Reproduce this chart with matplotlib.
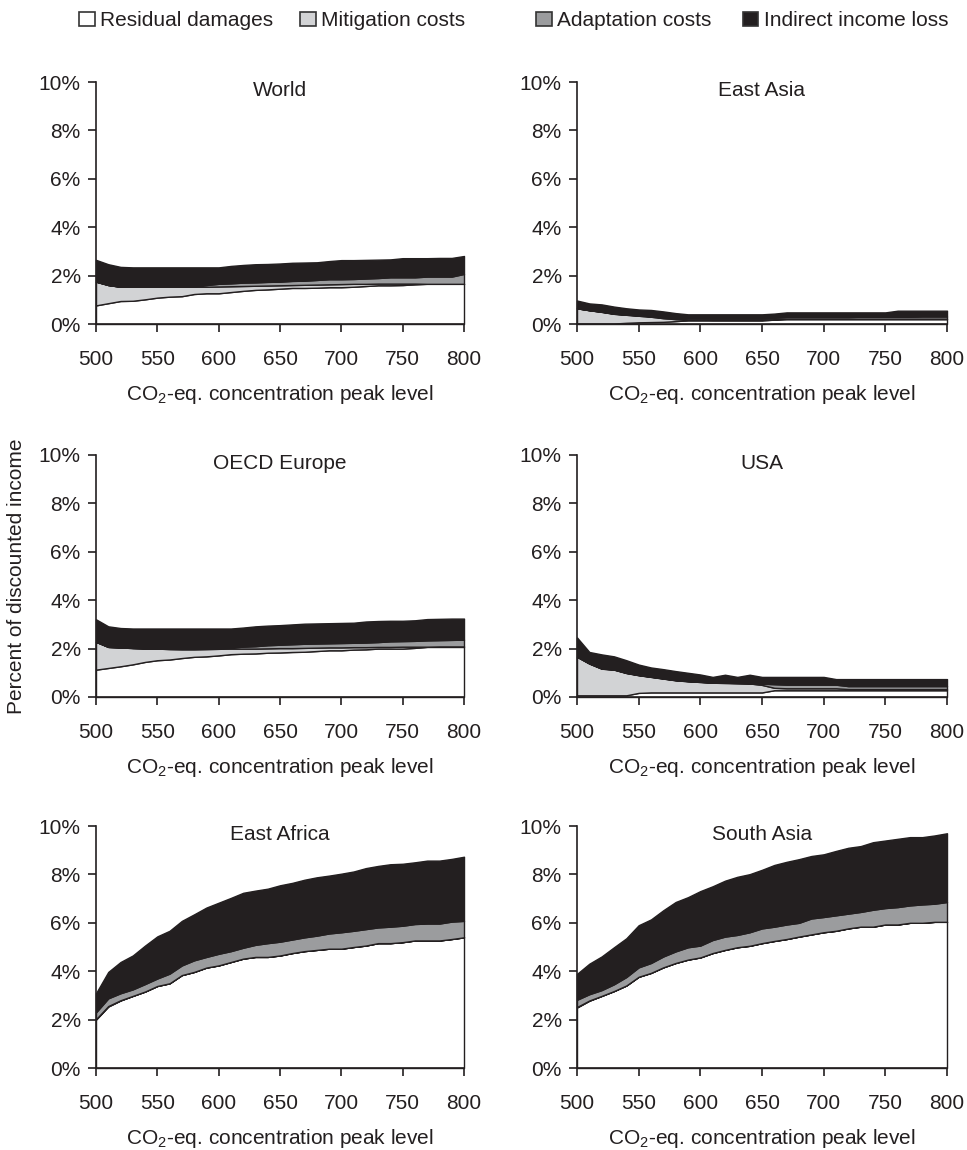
import matplotlib
matplotlib.use("Agg")
import matplotlib.pyplot as plt
from matplotlib.patches import Patch
from matplotlib.ticker import FuncFormatter

plt.rcParams["font.family"] = ["Liberation Sans", "DejaVu Sans"]
plt.rcParams["font.size"] = 15
plt.rcParams["mathtext.fontset"] = "custom"
plt.rcParams["mathtext.rm"] = "Liberation Sans"

# CO2-eq. concentration peak level (ppm)
CONC = [500, 510, 520, 530, 540, 550, 560, 570, 580, 590, 600, 610, 620, 630, 640, 650,
        660, 670, 680, 690, 700, 710, 720, 730, 740, 750, 760, 770, 780, 790, 800]

# % of discounted income, per region and component
WORLD_RESIDUAL = [0.77, 0.86, 0.95, 0.96, 1.02, 1.09, 1.13, 1.15, 1.24, 1.27, 1.27, 1.32, 1.37, 1.41, 1.43, 1.46,
                  1.49, 1.49, 1.50, 1.52, 1.52, 1.54, 1.57, 1.60, 1.60, 1.61, 1.64, 1.66, 1.66, 1.66, 1.66]
WORLD_MITIGATION = [0.98, 0.75, 0.59, 0.58, 0.52, 0.45, 0.41, 0.39, 0.30, 0.27, 0.28, 0.24, 0.20, 0.17, 0.16, 0.14,
                    0.12, 0.13, 0.13, 0.12, 0.13, 0.12, 0.09, 0.07, 0.07, 0.06, 0.03, 0.00, 0.00, 0.00, 0.00]
WORLD_ADAPTATION = [0.00, 0.00, 0.00, 0.00, 0.00, 0.00, 0.00, 0.00, 0.03, 0.07, 0.11, 0.12, 0.14, 0.14, 0.15, 0.15,
                    0.17, 0.17, 0.19, 0.21, 0.20, 0.20, 0.22, 0.23, 0.26, 0.26, 0.26, 0.30, 0.30, 0.30, 0.41]
WORLD_INDIRECT = [0.90, 0.86, 0.82, 0.80, 0.80, 0.80, 0.80, 0.80, 0.77, 0.73, 0.68, 0.72, 0.73, 0.75, 0.74, 0.75,
                  0.75, 0.75, 0.73, 0.75, 0.79, 0.78, 0.77, 0.76, 0.74, 0.79, 0.79, 0.76, 0.77, 0.77, 0.74]

EASIA_RESIDUAL = [0.02, 0.02, 0.02, 0.02, 0.05, 0.07, 0.08, 0.09, 0.12, 0.15, 0.15, 0.15, 0.15, 0.15, 0.15, 0.15,
                  0.18, 0.20, 0.20, 0.20, 0.20, 0.20, 0.20, 0.20, 0.20, 0.20, 0.20, 0.20, 0.20, 0.20, 0.20]
EASIA_MITIGATION = [0.63, 0.55, 0.48, 0.40, 0.33, 0.27, 0.22, 0.15, 0.08, 0.04, 0.03, 0.02, 0.02, 0.02, 0.02, 0.02,
                    0.02, 0.02, 0.02, 0.02, 0.02, 0.02, 0.02, 0.02, 0.02, 0.02, 0.02, 0.02, 0.02, 0.02, 0.02]
EASIA_ADAPTATION = [0.00, 0.00, 0.01, 0.01, 0.01, 0.02, 0.02, 0.03, 0.05, 0.06, 0.06, 0.06, 0.06, 0.06, 0.06, 0.06,
                    0.06, 0.07, 0.07, 0.07, 0.07, 0.07, 0.07, 0.08, 0.08, 0.08, 0.08, 0.08, 0.09, 0.09, 0.09]
EASIA_INDIRECT = [0.32, 0.28, 0.30, 0.29, 0.26, 0.24, 0.26, 0.25, 0.20, 0.15, 0.16, 0.17, 0.17, 0.17, 0.17, 0.17,
                  0.17, 0.19, 0.19, 0.19, 0.19, 0.19, 0.19, 0.18, 0.18, 0.18, 0.25, 0.25, 0.24, 0.24, 0.24]

OECD_RESIDUAL = [1.13, 1.20, 1.27, 1.35, 1.45, 1.52, 1.55, 1.61, 1.66, 1.68, 1.72, 1.77, 1.79, 1.80, 1.83, 1.84,
                 1.86, 1.87, 1.90, 1.93, 1.93, 1.96, 1.97, 2.00, 2.00, 2.00, 2.03, 2.07, 2.07, 2.07, 2.07]
OECD_MITIGATION = [1.15, 0.87, 0.78, 0.67, 0.55, 0.48, 0.43, 0.36, 0.31, 0.30, 0.27, 0.23, 0.21, 0.20, 0.18, 0.18,
                   0.16, 0.16, 0.14, 0.12, 0.12, 0.10, 0.09, 0.07, 0.07, 0.08, 0.05, 0.01, 0.02, 0.02, 0.02]
OECD_ADAPTATION = [0.00, 0.00, 0.00, 0.01, 0.02, 0.02, 0.04, 0.05, 0.05, 0.04, 0.04, 0.05, 0.08, 0.10, 0.13, 0.14,
                   0.16, 0.17, 0.17, 0.17, 0.18, 0.18, 0.19, 0.20, 0.23, 0.23, 0.24, 0.26, 0.26, 0.27, 0.28]
OECD_INDIRECT = [0.93, 0.85, 0.80, 0.80, 0.81, 0.81, 0.81, 0.81, 0.81, 0.81, 0.80, 0.78, 0.79, 0.82, 0.81, 0.81,
                 0.82, 0.83, 0.83, 0.83, 0.83, 0.83, 0.87, 0.87, 0.85, 0.84, 0.85, 0.88, 0.88, 0.88, 0.87]

USA_RESIDUAL = [0.07, 0.07, 0.07, 0.07, 0.07, 0.17, 0.19, 0.19, 0.19, 0.19, 0.19, 0.19, 0.19, 0.19, 0.19, 0.19,
                0.28, 0.28, 0.28, 0.28, 0.28, 0.28, 0.28, 0.28, 0.28, 0.28, 0.28, 0.28, 0.28, 0.28, 0.28]
USA_MITIGATION = [1.59, 1.31, 1.10, 1.06, 0.92, 0.73, 0.64, 0.57, 0.50, 0.46, 0.43, 0.40, 0.39, 0.38, 0.37, 0.31,
                  0.10, 0.08, 0.08, 0.08, 0.08, 0.08, 0.05, 0.05, 0.05, 0.05, 0.05, 0.05, 0.05, 0.05, 0.05]
USA_ADAPTATION = [0.01, 0.01, 0.01, 0.01, 0.01, 0.01, 0.01, 0.01, 0.01, 0.01, 0.01, 0.01, 0.01, 0.01, 0.01, 0.05,
                  0.15, 0.15, 0.15, 0.15, 0.15, 0.15, 0.12, 0.12, 0.12, 0.12, 0.12, 0.12, 0.12, 0.12, 0.12]
USA_INDIRECT = [0.79, 0.47, 0.58, 0.54, 0.52, 0.43, 0.38, 0.38, 0.37, 0.34, 0.30, 0.23, 0.33, 0.25, 0.35, 0.28,
                0.30, 0.32, 0.32, 0.32, 0.32, 0.23, 0.29, 0.29, 0.29, 0.29, 0.29, 0.29, 0.29, 0.29, 0.29]

EAFRICA_RESIDUAL = [2.00, 2.54, 2.79, 2.98, 3.16, 3.39, 3.50, 3.84, 3.97, 4.15, 4.24, 4.38, 4.52, 4.59, 4.59, 4.65,
                    4.75, 4.83, 4.88, 4.93, 4.93, 5.00, 5.06, 5.16, 5.16, 5.20, 5.27, 5.27, 5.27, 5.33, 5.40]
EAFRICA_MITIGATION = [0.02, 0.02, 0.01, 0.00, 0.00, 0.00, 0.00, 0.00, 0.00, 0.00, 0.00, 0.00, 0.00, 0.00, 0.00, 0.00,
                      0.00, 0.00, 0.00, 0.00, 0.00, 0.00, 0.00, 0.00, 0.00, 0.00, 0.00, 0.00, 0.00, 0.00, 0.00]
EAFRICA_ADAPTATION = [0.28, 0.32, 0.29, 0.27, 0.31, 0.31, 0.40, 0.40, 0.48, 0.44, 0.48, 0.45, 0.45, 0.50, 0.57, 0.57,
                      0.56, 0.57, 0.59, 0.63, 0.68, 0.67, 0.68, 0.65, 0.68, 0.68, 0.68, 0.70, 0.70, 0.72, 0.68]
EAFRICA_INDIRECT = [0.79, 1.09, 1.29, 1.40, 1.59, 1.74, 1.77, 1.84, 1.90, 2.04, 2.11, 2.20, 2.27, 2.24, 2.25, 2.33,
                    2.34, 2.38, 2.41, 2.39, 2.42, 2.45, 2.52, 2.54, 2.58, 2.56, 2.55, 2.60, 2.60, 2.59, 2.65]

SASIA_RESIDUAL = [2.50, 2.78, 2.98, 3.18, 3.41, 3.77, 3.93, 4.16, 4.34, 4.48, 4.57, 4.75, 4.88, 4.99, 5.05, 5.16,
                  5.25, 5.33, 5.43, 5.52, 5.61, 5.67, 5.77, 5.84, 5.84, 5.93, 5.93, 6.00, 6.00, 6.04, 6.04]
SASIA_MITIGATION = [0.02, 0.01, 0.00, 0.00, 0.00, 0.00, 0.00, 0.00, 0.00, 0.00, 0.00, 0.00, 0.00, 0.00, 0.00, 0.00,
                    0.00, 0.00, 0.00, 0.00, 0.00, 0.00, 0.00, 0.00, 0.00, 0.00, 0.00, 0.00, 0.00, 0.00, 0.00]
SASIA_ADAPTATION = [0.30, 0.26, 0.24, 0.28, 0.35, 0.39, 0.41, 0.45, 0.48, 0.51, 0.49, 0.54, 0.55, 0.51, 0.56, 0.61,
                    0.59, 0.60, 0.57, 0.66, 0.63, 0.64, 0.61, 0.61, 0.70, 0.68, 0.72, 0.72, 0.76, 0.75, 0.82]
SASIA_INDIRECT = [1.07, 1.26, 1.39, 1.53, 1.60, 1.74, 1.80, 1.91, 2.04, 2.07, 2.25, 2.22, 2.31, 2.40, 2.40, 2.42,
                  2.55, 2.59, 2.63, 2.58, 2.59, 2.66, 2.72, 2.72, 2.79, 2.79, 2.82, 2.82, 2.78, 2.82, 2.84]

LAYER_LABELS = ["Residual damages", "Mitigation costs", "Adaptation costs", "Indirect income loss"]
LAYER_COLORS = ["#ffffff", "#d2d3d5", "#9b9c9e", "#231f20"]
INK = "#231f20"

PANELS = [
    ("World", [WORLD_RESIDUAL, WORLD_MITIGATION, WORLD_ADAPTATION, WORLD_INDIRECT]),
    ("East Asia", [EASIA_RESIDUAL, EASIA_MITIGATION, EASIA_ADAPTATION, EASIA_INDIRECT]),
    ("OECD Europe", [OECD_RESIDUAL, OECD_MITIGATION, OECD_ADAPTATION, OECD_INDIRECT]),
    ("USA", [USA_RESIDUAL, USA_MITIGATION, USA_ADAPTATION, USA_INDIRECT]),
    ("East Africa", [EAFRICA_RESIDUAL, EAFRICA_MITIGATION, EAFRICA_ADAPTATION, EAFRICA_INDIRECT]),
    ("South Asia", [SASIA_RESIDUAL, SASIA_MITIGATION, SASIA_ADAPTATION, SASIA_INDIRECT]),
]

W, H = 967, 1150
fig = plt.figure(figsize=(W / 100, H / 100), dpi=100)

col_left = [96, 577]
col_width = [368, 370]
row_bottom = [324, 697, 1068]
ax_height = 242

for i, (title, layers) in enumerate(PANELS):
    row, col = divmod(i, 2)
    ax = fig.add_axes([col_left[col] / W, 1 - row_bottom[row] / H,
                       col_width[col] / W, ax_height / H])
    polys = ax.stackplot(CONC, *layers, colors=LAYER_COLORS, edgecolor=INK, linewidth=1.0)
    for p in polys:
        p.set_clip_on(False)
    ax.set_xlim(500, 800)
    ax.set_ylim(0, 10)
    ax.set_xticks(range(500, 801, 50))
    ax.set_yticks(range(0, 11, 2))
    ax.yaxis.set_major_formatter(FuncFormatter(lambda v, p: f"{v:.0f}%"))
    for s in ["top", "right"]:
        ax.spines[s].set_visible(False)
    for s in ["left", "bottom"]:
        ax.spines[s].set_linewidth(1.2)
        ax.spines[s].set_color(INK)
    ax.tick_params(direction="out", length=6, width=1.2, colors=INK, labelsize=15)
    ax.tick_params(axis="x", pad=12.5)
    ax.tick_params(axis="y", pad=5)
    ax.set_xlabel(r"CO$_\mathregular{2}$-eq. concentration peak level", labelpad=10, color=INK)
    ax.text(0.5, 0.965, title, transform=ax.transAxes, ha="center", va="center", color=INK)

fig.text(17 / W, 1 - 576 / H, "Percent of discounted income", rotation=90,
         ha="center", va="center", color=INK)

handles = [Patch(facecolor=c, edgecolor="#333333", linewidth=1.2) for c in LAYER_COLORS]
leg_kw = dict(ncol=2, frameon=False, borderpad=0, borderaxespad=0, handlelength=0.75,
              handleheight=0.65, handletextpad=0.25, fontsize=15, labelcolor=INK)
fig.legend(handles[:2], LAYER_LABELS[:2], loc="center left",
           bbox_to_anchor=(79 / W, 1 - 21 / H), columnspacing=1.3, **leg_kw)
fig.legend(handles[2:], LAYER_LABELS[2:], loc="center right",
           bbox_to_anchor=(948 / W, 1 - 21 / H), columnspacing=1.5, **leg_kw)

fig.savefig("out.png", dpi=100)
